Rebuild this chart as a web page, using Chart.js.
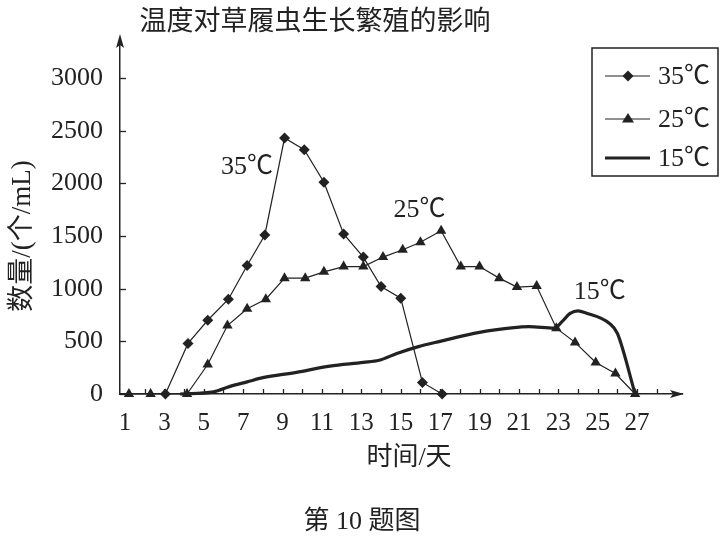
<!DOCTYPE html>
<html>
<head>
<meta charset="utf-8">
<script src="https://cdn.jsdelivr.net/npm/chart.js@4"></script>
<style>
html,body{margin:0;padding:0;background:#fff;}
#wrap{width:724px;height:536px;position:relative;}
</style>
</head>
<body>
<div id="wrap"><canvas id="c"></canvas></div>
<script>
// ---- data ----
const chartTitle = "温度对草履虫生长繁殖的影响";
const xTitle = "时间/天";
const yTitle = "数量/(个/mL)";
const caption = "第 10 题图";
const seriesNames = ["35℃", "25℃", "15℃"];

const xTickLabels = [1, 3, 5, 7, 9, 11, 13, 15, 17, 19, 21, 23, 25, 27];
const yTickLabels = [0, 500, 1000, 1500, 2000, 2500, 3000];

const days35 = [3.05, 4.2, 5.2, 6.25, 7.2, 8.1, 9.1, 10.1, 11.1, 12.1, 13.1, 14.0, 15.0, 16.1, 17.1];
const vals35 = [0, 480, 700, 900, 1220, 1510, 2430, 2320, 2010, 1520, 1300, 1020, 910, 110, 0];

const days25 = [1.2, 2.3, 4.15, 5.2, 6.2, 7.2, 8.15, 9.1, 10.15, 11.1, 12.1, 13.1, 14.1, 15.1, 16.0, 17.05, 18.05, 19.0, 20.0, 20.9, 21.9, 22.9, 23.85, 24.9, 25.9, 26.9];
const vals25 = [0, 0, 0, 280, 650, 810, 900, 1100, 1100, 1160, 1210, 1210, 1300, 1370, 1440, 1550, 1210, 1210, 1100, 1015, 1025, 625, 490, 300, 195, 0];

const days15 = [3.8, 5.5, 6.3, 7.2, 8.0, 9.7, 11.4, 13.1, 13.9, 14.8, 15.9, 17.0, 19.0, 20.5, 21.5, 22.8, 23.2, 23.6, 24.0, 24.4, 25.6, 26.0, 26.9];
const vals15 = [0, 20, 70, 115, 155, 205, 265, 300, 320, 385, 450, 500, 585, 625, 640, 625, 690, 765, 790, 770, 670, 575, 0];

// in-plot labels: [text, day, value]
const curveLabels = [["35℃", 7.2, 2150], ["25℃", 15.95, 1750], ["15℃", 25.1, 970]];

const toPts = (xs, ys) => xs.map((x, i) => ({x: x, y: ys[i]}));

const INK = '#222';
const SERIF = '"Liberation Serif", "Noto Sans CJK SC", serif';

const decor = {
  id: 'decor',
  afterDraw(chart) {
    const ctx = chart.ctx;
    const xs = chart.scales.x, ys = chart.scales.y;
    const a = chart.chartArea;
    ctx.save();
    ctx.strokeStyle = INK;
    ctx.fillStyle = INK;
    ctx.lineWidth = 1.3;
    // y tick marks (inward)
    yTickLabels.forEach(v => {
      const py = Math.round(ys.getPixelForValue(v)) + 0.5;
      ctx.beginPath(); ctx.moveTo(a.left, py); ctx.lineTo(a.left + 6, py); ctx.stroke();
    });
    // x tick marks (upward) at each day
    for (let d = 2; d <= 28; d++) {
      const px = Math.round(xs.getPixelForValue(d)) + 0.5;
      ctx.beginPath(); ctx.moveTo(px, a.bottom); ctx.lineTo(px, a.bottom - 5); ctx.stroke();
    }
    // arrows
    ctx.beginPath();
    ctx.moveTo(a.left, a.top - 4);
    ctx.lineTo(a.left - 4, a.top + 10);
    ctx.lineTo(a.left, a.top + 7);
    ctx.lineTo(a.left + 4, a.top + 10);
    ctx.closePath(); ctx.fill();
    ctx.beginPath();
    ctx.moveTo(a.right + 2, a.bottom);
    ctx.lineTo(a.right - 12, a.bottom - 4);
    ctx.lineTo(a.right - 9, a.bottom);
    ctx.lineTo(a.right - 12, a.bottom + 4);
    ctx.closePath(); ctx.fill();

    // curve labels
    ctx.font = '26px ' + SERIF;
    ctx.textAlign = 'center';
    ctx.textBaseline = 'middle';
    curveLabels.forEach(([t, d, v]) => {
      ctx.fillText(t, xs.getPixelForValue(d), ys.getPixelForValue(v));
    });

    // titles
    ctx.font = '27px ' + SERIF;
    ctx.fillText(chartTitle, 315, 23);
    ctx.font = '26px ' + SERIF;
    ctx.fillText(xTitle, 409, 458);
    ctx.fillText(caption, 362, 522);
    ctx.save();
    ctx.translate(23, 236);
    ctx.rotate(-Math.PI / 2);
    ctx.font = '27px ' + SERIF;
    ctx.fillText(yTitle, 0, 0);
    ctx.restore();

    // legend
    ctx.lineWidth = 1.5;
    ctx.strokeRect(592, 48, 126, 128);
    const rows = [76, 119, 158];
    chart.data.datasets.forEach((ds, i) => {
      const yy = rows[i];
      ctx.lineWidth = ds.borderWidth;
      ctx.beginPath(); ctx.moveTo(605, yy); ctx.lineTo(650, yy); ctx.stroke();
      if (ds.pointStyle === 'rectRot') {
        const r = 5.5;
        ctx.beginPath();
        ctx.moveTo(628, yy - r); ctx.lineTo(628 + r, yy); ctx.lineTo(628, yy + r); ctx.lineTo(628 - r, yy);
        ctx.closePath(); ctx.fill();
      } else if (ds.pointStyle === 'triangle') {
        const r = 6;
        ctx.beginPath();
        ctx.moveTo(628, yy - r); ctx.lineTo(628 + r, yy + r * 0.6); ctx.lineTo(628 - r, yy + r * 0.6);
        ctx.closePath(); ctx.fill();
      }
      ctx.textAlign = 'left';
      ctx.font = '26px ' + SERIF;
      ctx.fillText(ds.label, 658, yy + 1);
    });
    ctx.restore();
  }
};

new Chart(document.getElementById('c'), {
  type: 'line',
  data: {
    datasets: [
      {
        label: seriesNames[0], data: toPts(days35, vals35), clip: false,
        borderColor: INK, backgroundColor: INK, borderWidth: 1.2,
        pointStyle: 'rectRot', pointRadius: 5.5, pointBorderWidth: 0, tension: 0
      },
      {
        label: seriesNames[1], data: toPts(days25, vals25), clip: false,
        borderColor: INK, backgroundColor: INK, borderWidth: 1.2,
        pointStyle: 'triangle', pointRadius: 6, pointBorderWidth: 0, tension: 0
      },
      {
        label: seriesNames[2], data: toPts(days15, vals15), clip: false,
        borderColor: INK, backgroundColor: INK, borderWidth: 3.2,
        pointRadius: 0, cubicInterpolationMode: 'monotone'
      }
    ]
  },
  options: {
    responsive: true,
    maintainAspectRatio: false,
    animation: false,
    layout: {padding: {top: 38, right: 42, bottom: 0, left: 0}},
    plugins: {legend: {display: false}, title: {display: false}, tooltip: {enabled: false}},
    scales: {
      x: {
        type: 'linear', min: 0.746, max: 29.28,
        grid: {display: false},
        border: {display: true, color: INK, width: 1.5},
        afterBuildTicks: s => { s.ticks = xTickLabels.map(v => ({value: v})); },
        afterFit: s => { s.height = 142; },
        ticks: {color: INK, font: {family: SERIF, size: 25}, padding: 6, maxRotation: 0, autoSkip: false,
                callback: v => String(v)}
      },
      y: {
        type: 'linear', min: 0, max: 3380,
        grid: {display: false},
        border: {display: true, color: INK, width: 1.5},
        afterBuildTicks: s => { s.ticks = yTickLabels.map(v => ({value: v})); },
        afterFit: s => { s.width = 120; },
        ticks: {color: INK, font: {family: SERIF, size: 26}, padding: 9, callback: v => String(v)}
      }
    }
  },
  plugins: [decor]
});
</script>
</body>
</html>
